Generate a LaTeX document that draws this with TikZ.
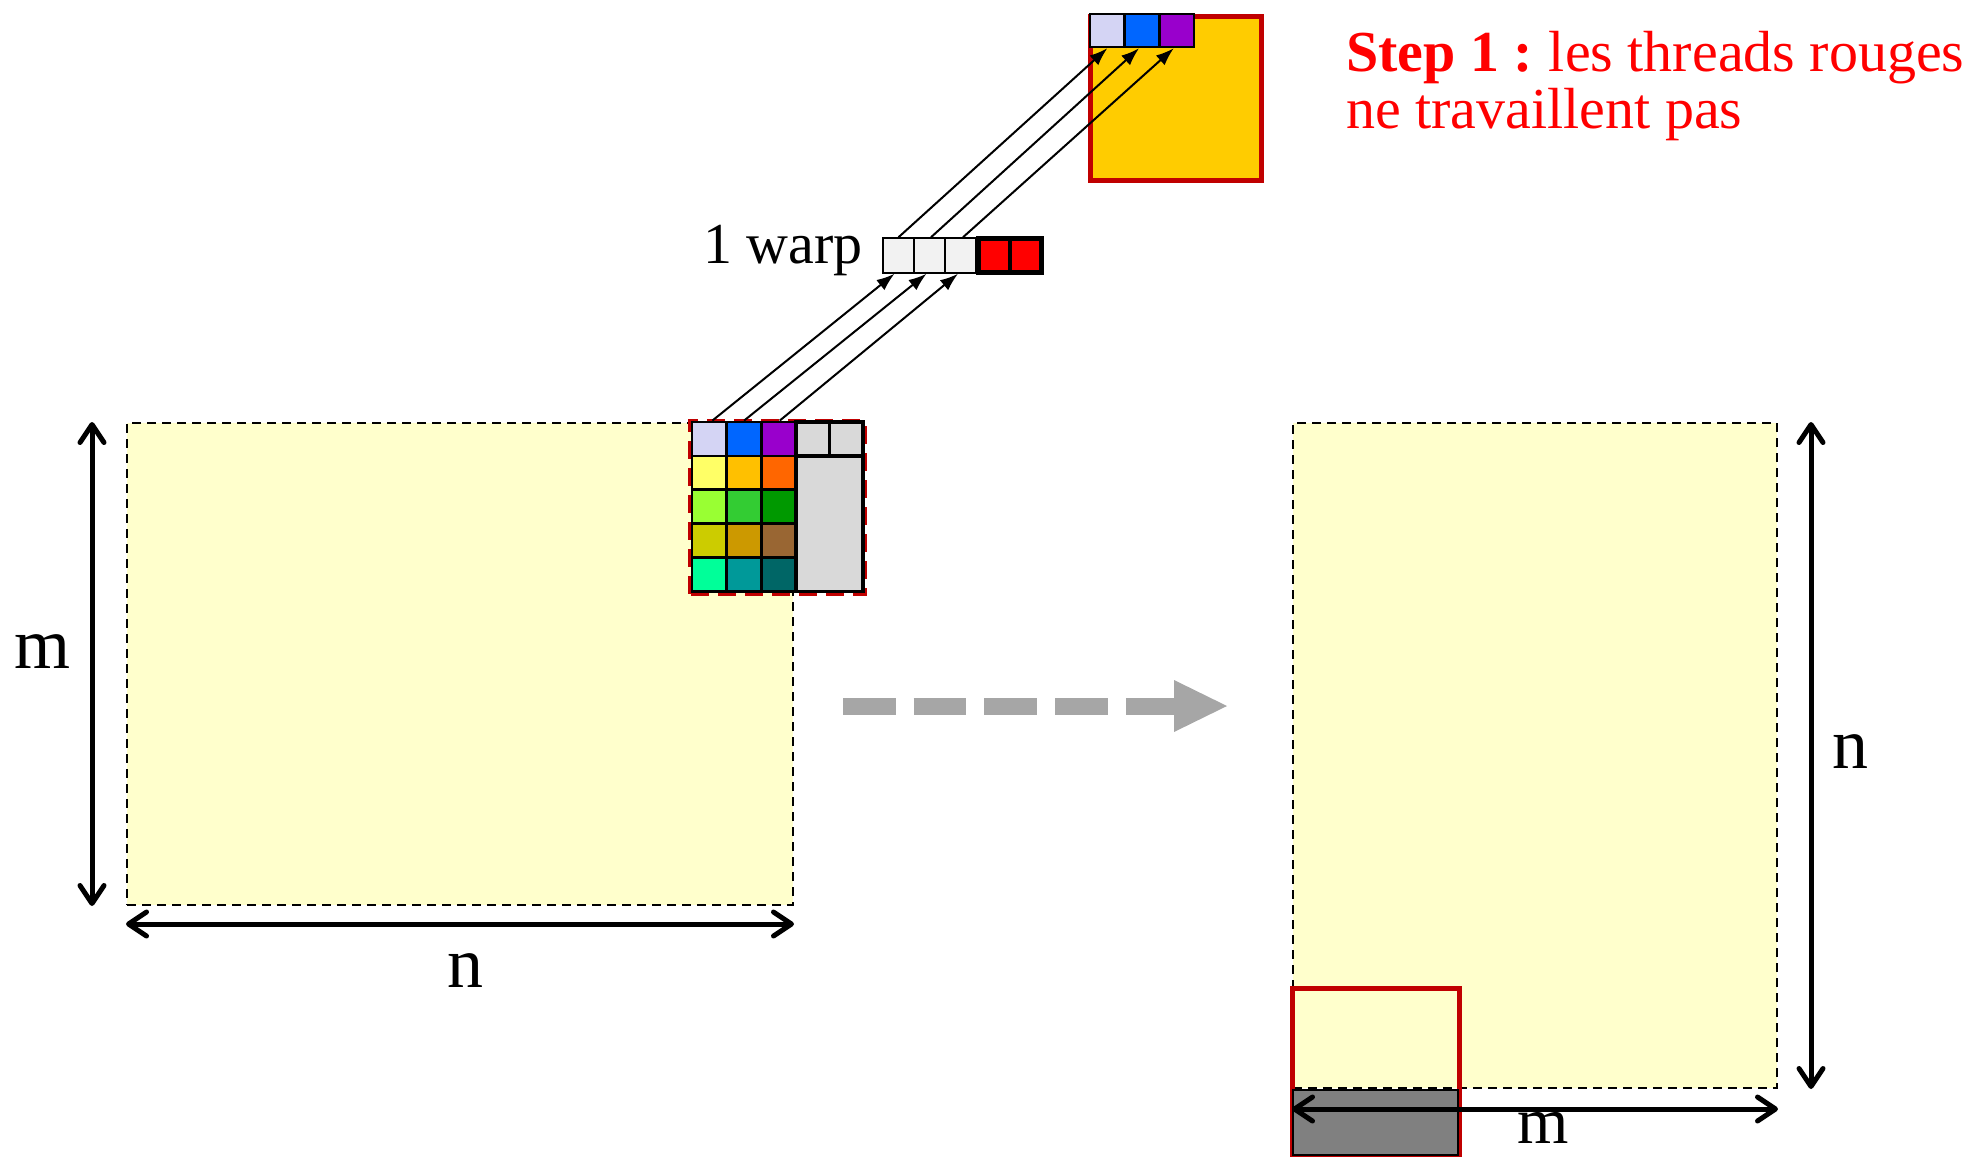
\documentclass[tikz,border=0pt]{standalone}
\usepackage{fontspec}
\setmainfont{Liberation Serif}
\usetikzlibrary{arrows.meta,calc}

\definecolor{paleyellow}{HTML}{FFFFCC}
\definecolor{darkred}{HTML}{C00000}
\definecolor{gold}{HTML}{FFCC00}
\definecolor{lav}{HTML}{D4D4F4}
\definecolor{cblue}{HTML}{0066FF}
\definecolor{cpurple}{HTML}{9900CC}
\definecolor{cyellow}{HTML}{FFFF66}
\definecolor{camber}{HTML}{FFC000}
\definecolor{corange}{HTML}{FF6600}
\definecolor{clime}{HTML}{99FF33}
\definecolor{cgreen}{HTML}{33CC33}
\definecolor{cdkgreen}{HTML}{009900}
\definecolor{colive}{HTML}{CCCC00}
\definecolor{cochre}{HTML}{CC9900}
\definecolor{cbrown}{HTML}{996633}
\definecolor{cmint}{HTML}{00FF99}
\definecolor{cteal}{HTML}{009999}
\definecolor{cdkteal}{HTML}{006666}
\definecolor{lightgray}{HTML}{D9D9D9}
\definecolor{warpgray}{HTML}{F2F2F2}
\definecolor{midgray}{HTML}{808080}
\definecolor{arrowgray}{HTML}{A6A6A6}

\begin{document}
\begin{tikzpicture}[x=1pt,y=-1pt,
  matrixbox/.style={fill=paleyellow, draw=black, line width=2pt,
    dash pattern=on 9pt off 6pt, inner sep=0pt},
  cell/.style={draw=black, line width=2.8pt, inner sep=0pt,
    minimum width=34.7pt, minimum height=33.9pt},
  graycell/.style={draw=black, line width=3.5pt, fill=lightgray, inner sep=0pt},
  topcell/.style={draw=black, line width=2.5pt, inner sep=0pt,
    minimum width=34.7pt, minimum height=33pt},
  warpcell/.style={draw=black, line width=2pt, fill=warpgray, inner sep=0pt,
    minimum width=31pt, minimum height=34.5pt},
  idlecell/.style={draw=black, line width=4.5pt, fill=red, inner sep=0pt,
    minimum width=31.5pt, minimum height=34pt},
  warparrow/.style={line width=2pt, -{Latex[length=18pt,width=13pt]}},
  dimarrow/.style={line width=5pt,
    {Straight Barb[length=18pt,width=24pt,round]}-{Straight Barb[length=18pt,width=24pt,round]}},
  dimlabel/.style={font=\fontsize{72}{72}\selectfont, anchor=base, inner sep=0pt},
  biglabel/.style={font=\fontsize{58}{57}\selectfont, anchor=base west, inner sep=0pt}
]
\useasboundingbox (0,0) rectangle (1975,1157);

% source matrix (m x n) and its dimensions
\node[matrixbox, minimum width=666pt, minimum height=482pt] (lm) at (460,664) {};
\draw[dimarrow] ([xshift=-34pt]lm.north west) -- ([xshift=-34pt]lm.south west);
\draw[dimarrow] ([yshift=-18pt]lm.south west) -- ([yshift=-18pt]lm.south east);
\node[dimlabel] (lm-m) at (43,668) {m};
\node[dimlabel] (lm-n) at (465,987) {n};

% thread block at the corner of the source matrix
\node[draw=darkred, line width=5pt, dash pattern=on 18pt off 9pt, inner sep=0pt,
  minimum width=174pt, minimum height=172.5pt] (blk) at (777.5,507.25) {};

\node[cell, fill=lav]      (c00) at (709.35,438.95) {};
\node[cell, fill=cblue]    (c01) at (744.05,438.95) {};
\node[cell, fill=cpurple]  (c02) at (778.75,438.95) {};
\node[cell, fill=cyellow]  (c10) at (709.35,472.85) {};
\node[cell, fill=camber]   (c11) at (744.05,472.85) {};
\node[cell, fill=corange]  (c12) at (778.75,472.85) {};
\node[cell, fill=clime]    (c20) at (709.35,506.75) {};
\node[cell, fill=cgreen]   (c21) at (744.05,506.75) {};
\node[cell, fill=cdkgreen] (c22) at (778.75,506.75) {};
\node[cell, fill=colive]   (c30) at (709.35,540.65) {};
\node[cell, fill=cochre]   (c31) at (744.05,540.65) {};
\node[cell, fill=cbrown]   (c32) at (778.75,540.65) {};
\node[cell, fill=cmint]    (c40) at (709.35,574.55) {};
\node[cell, fill=cteal]    (c41) at (744.05,574.55) {};
\node[cell, fill=cdkteal]  (c42) at (778.75,574.55) {};

\node[graycell, minimum width=66.9pt, minimum height=135.6pt] (gbig) at (829.55,523.7) {};
\node[graycell, minimum width=33.4pt, minimum height=33.9pt] (g0) at (812.8,438.95) {};
\node[graycell, minimum width=33.4pt, minimum height=33.9pt] (g1) at (846.3,438.95) {};

% one warp: three active threads, two idle (red) threads
\node[warpcell] (w0) at (898.5,255.5) {};
\node[warpcell] (w1) at (929.5,255.5) {};
\node[warpcell] (w2) at (960.5,255.5) {};
\node[idlecell] (r0) at (994.25,255.5) {};
\node[idlecell] (r1) at (1025.75,255.5) {};
\node[biglabel] (warp) at (703,263) {1 warp};

% shared-memory tile
\node[fill=gold, draw=darkred, line width=5pt, inner sep=0pt,
  minimum width=171pt, minimum height=164pt] (tb) at (1175.5,98) {};
\node[topcell, fill=lav]     (t0) at (1107.35,30.5) {};
\node[topcell, fill=cblue]   (t1) at (1142.05,30.5) {};
\node[topcell, fill=cpurple] (t2) at (1176.75,30.5) {};

% data movement
\draw[warparrow] ([xshift=3pt]c00.north) -- ([xshift=-4pt]w0.south);
\draw[warparrow] (c01.north) -- ([xshift=-3pt]w1.south);
\draw[warparrow] ([xshift=1pt]c02.north) -- ([xshift=-2.5pt]w2.south);
\draw[warparrow] (w0.north) -- (t0.south);
\draw[warparrow] ([xshift=1.5pt]w1.north) -- ([xshift=-3pt]t1.south);
\draw[warparrow] ([xshift=2.5pt]w2.north) -- ([xshift=-3pt]t2.south);

\node[biglabel, text=red] (step1) at (1346,71.7) {\textbf{Step 1 :}\hspace{-0.06em} les threads rouges};
\node[biglabel, text=red] (step2) at (1346,128.3) {ne travaillent pas};

% transposition arrow
\coordinate (ga) at (843,706);
\coordinate (gb) at (1174,706);
\coordinate (gt) at (1227,706);
\draw[arrowgray, line width=17pt, dash pattern=on 52.7pt off 18pt] (ga) -- (gb);
\fill[arrowgray] ([yshift=26pt]gb) -- (gt) -- ([yshift=-26pt]gb) -- cycle;

% destination matrix (n x m) and its dimensions
\node[matrixbox, minimum width=484pt, minimum height=665pt] (rm) at (1535,755.5) {};
\node[draw=darkred, line width=5pt, inner sep=0pt,
  minimum width=167pt, minimum height=166pt] (sel) at (1376,1071.5) {};
\node[fill=midgray, draw=black, line width=2pt, inner sep=0pt,
  minimum width=165pt, minimum height=65pt] (shade) at (1375.5,1122.5) {};
\draw[dimarrow] ([xshift=33pt]rm.north east) -- ([xshift=33pt]rm.south east);
\draw[dimarrow] ([yshift=-20pt]rm.south west) -- ([yshift=-20pt]rm.south east);
\node[dimlabel] (rm-n) at (1850,768) {n};
\node[dimlabel, font=\fontsize{66}{66}\selectfont] (rm-m) at (1543,1143) {m};
\end{tikzpicture}
\end{document}
